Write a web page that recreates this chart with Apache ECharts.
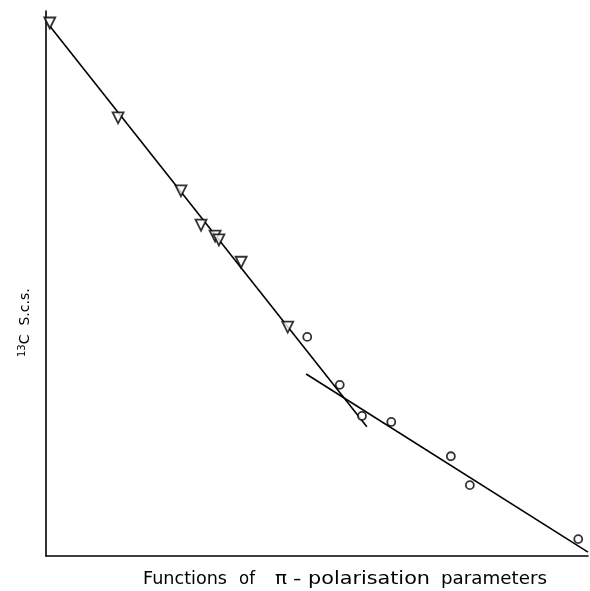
<!DOCTYPE html>
<html><head><meta charset="utf-8">
<script src="https://cdn.jsdelivr.net/npm/echarts@6/dist/echarts.min.js"></script>
<style>html,body{margin:0;padding:0;background:#fff}#c{width:590px;height:591px}</style>
</head><body><div id="c"></div>
<script>
// Triangle series (x, y)
const triX = [0.07, 1.33, 2.49, 2.86, 3.12, 3.19, 3.60, 4.46];
const triY = [9.78, 8.04, 6.70, 6.07, 5.87, 5.80, 5.39, 4.20];
// Circle series
const cirX = [4.82, 5.42, 5.83, 6.37, 7.47, 7.82, 9.82];
const cirY = [4.02, 3.14, 2.57, 2.46, 1.83, 1.30, 0.31];
// Fitted lines (end points)
const line1X = [0.04, 5.92];
const line1Y = [9.76, 2.37];
const line2X = [4.80, 10.0];
const line2Y = [3.34, 0.07];
// x-axis title words
const xTitleWords = ["Functions", "of", "\u03c0", "-", "polarisation", "parameters"];
const xTitleLeft = [143, 239, 275, 293, 308, 441];
const xTitleRight = [227, 255, 287, 303, 430, 547];

const zip = (a, b) => a.map((v, i) => [v, b[i]]);
const chart = echarts.init(document.getElementById('c'));
const axisCommon = {
  type: 'value', min: 0, max: 10,
  axisLine: {show: true, lineStyle: {color: '#000', width: 1.6}},
  axisTick: {show: false}, axisLabel: {show: false}, splitLine: {show: false}
};
const titleFont = '18px "DejaVu Sans"';
const mctx = document.createElement('canvas').getContext('2d');
mctx.font = titleFont;
const titleGraphics = xTitleWords.map((w, i) => {
  const target = xTitleRight[i] - xTitleLeft[i];
  const m = mctx.measureText(w).width;
  const sx = Math.max(0.8, Math.min(1.3, target / m));
  return {type: 'text', x: xTitleLeft[i], y: 570, scaleX: sx,
    style: {text: w, font: titleFont, fill: '#000'}};
});
chart.setOption({
  animation: false,
  backgroundColor: '#fff',
  grid: {left: 46, right: 2, top: 11, bottom: 35},
  xAxis: axisCommon,
  yAxis: axisCommon,
  graphic: titleGraphics.concat([
    {type: 'text', x: 17, y: 357, rotation: Math.PI / 2,
     style: {text: '{s|13}{n|C  S.c.s.}', fill: '#000',
       rich: {s: {font: '10px "DejaVu Sans"', verticalAlign: 'top', padding: [0,0,6,0]},
              n: {font: '14px "DejaVu Sans"'}}}}
  ]),
  series: [
    {type: 'line', data: zip(line1X, line1Y), symbol: 'none', lineStyle: {color: '#000', width: 1.6}, z: 1},
    {type: 'line', data: zip(line2X, line2Y), symbol: 'none', lineStyle: {color: '#000', width: 1.6}, z: 1},
    {type: 'scatter', data: zip(triX, triY), symbol: 'triangle', symbolRotate: 180, symbolSize: 11,
     clip: false, itemStyle: {color: '#fff', borderColor: '#000', borderWidth: 1.8}, z: 3},
    {type: 'scatter', data: zip(cirX, cirY), symbol: 'circle', symbolSize: 8,
     clip: false, itemStyle: {color: '#fff', borderColor: '#000', borderWidth: 1.8}, z: 3}
  ]
});
</script></body></html>
